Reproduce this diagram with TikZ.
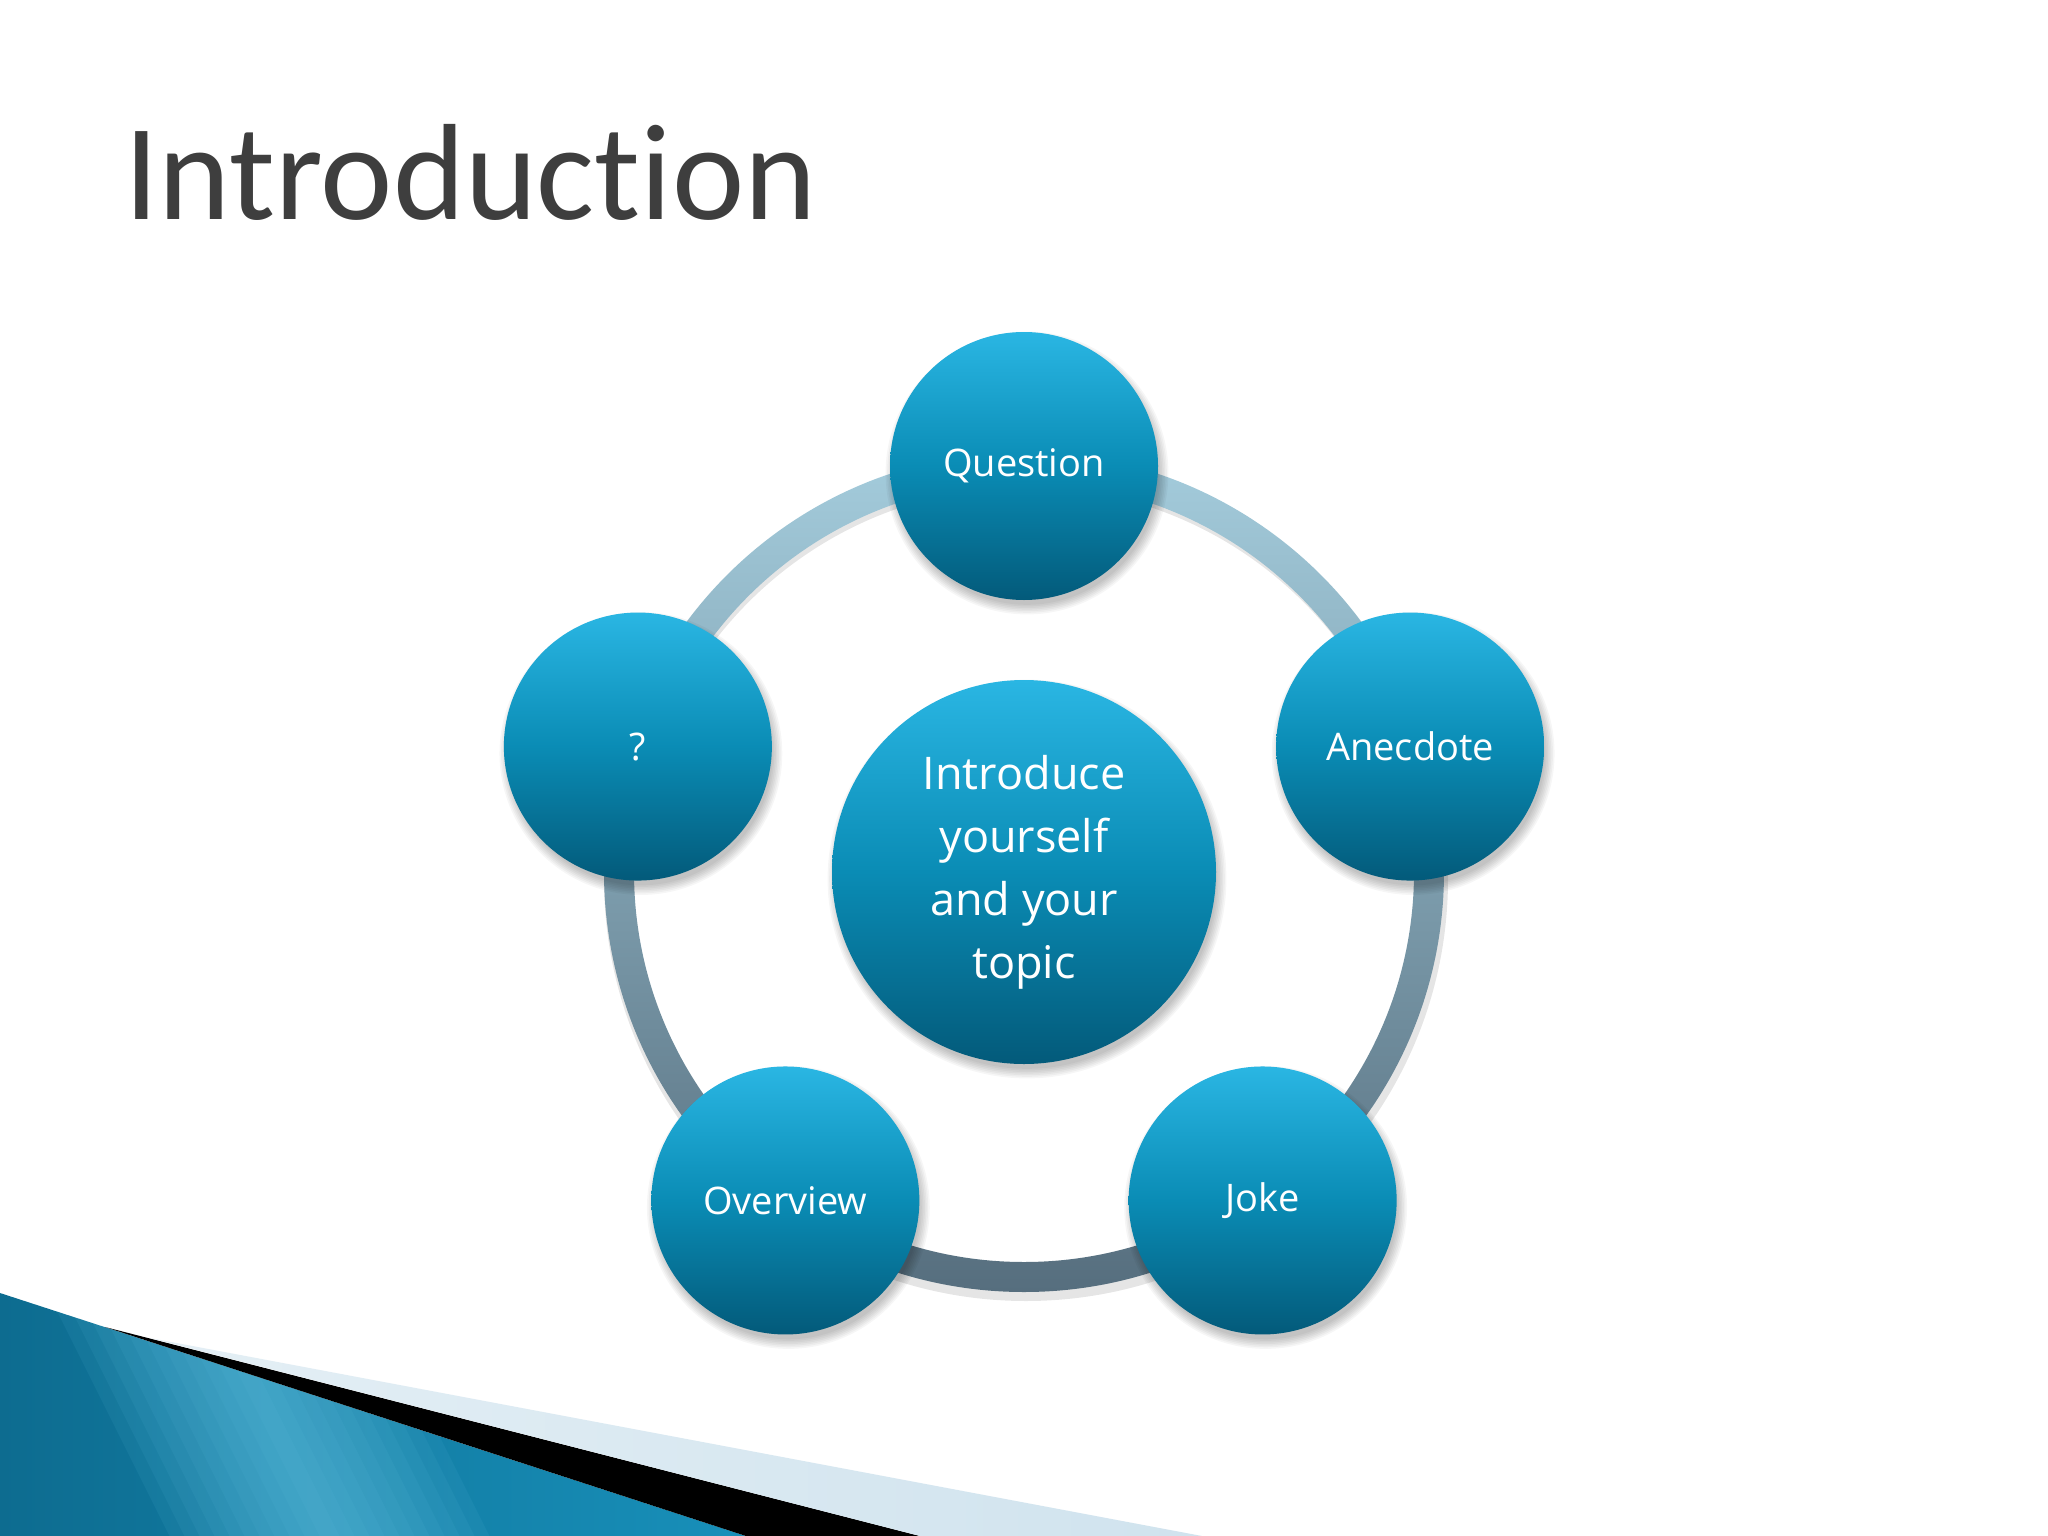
\documentclass[tikz,border=0pt]{standalone}
\usepackage{fontspec}
\setmainfont{Carlito}[Ligatures={NoCommon}]
\newfontfamily\labfont{Open Sans}
\usetikzlibrary{calc}
\definecolor{ctop}{HTML}{2AB6E3}
\definecolor{cmid}{HTML}{0A8CB5}
\definecolor{cbot}{HTML}{035A7A}
\definecolor{ringtop}{HTML}{A4CCDC}
\definecolor{ringbot}{HTML}{566E7E}
\definecolor{titlegray}{HTML}{3E3E3E}
\definecolor{blA}{HTML}{0D6C90}
\definecolor{blB}{HTML}{62C2E2}
\definecolor{blC}{HTML}{1890BA}
\definecolor{lightstripe}{HTML}{D0E3EE}
\definecolor{lightstripeL}{HTML}{E4EFF5}
\tikzset{
  bubble/.style={circle, inner sep=0pt, minimum size=268pt,
    top color=ctop, bottom color=cbot, middle color=cmid, draw=none,
    text=white, align=center, font=\labfont\fontsize{38}{46}\selectfont},
  bigbubble/.style={bubble, minimum size=384pt, font=\labfont\fontsize{45}{63}\selectfont},
  titletext/.style={anchor=base west, inner sep=0pt, font=\fontsize{137}{160}\selectfont}
}
\newcommand\fuzzyshadow[2]{%
  \foreach \k in {1,...,7}{%
    \fill[black, opacity=0.035] ($(#1)+(3,7)$) circle ({#2+9-1.6*\k});
  }%
}
\begin{document}
\begin{tikzpicture}[x=1pt,y=-1pt]
\useasboundingbox (0,0) rectangle (2048,1536);
\fill[white] (0,0) rectangle (2048,1536);

% title
\node[titletext, text=titlegray] (title) at (124,219) {Introduction};

% bottom-left swoosh
\begin{scope}
  \clip (0,1293) -- (746,1536) -- (0,1536) -- cycle;
  \shade[left color=blA, right color=blC] (0,1290) rectangle (750,1536);
  \foreach \w in {160,145,...,10}{
    \fill[blB, opacity=0.09] (158-\w,1193) -- (158+\w,1193) -- (423+\w,1723) -- (423-\w,1723) -- cycle;
  }
\end{scope}
\fill[black] (105,1327) -- (920,1536) -- (746,1536) -- cycle;
\shade[left color=lightstripeL, right color=lightstripe]
  (150,1338) -- (1202,1536) -- (920,1536) -- cycle;

% ring
\coordinate (c) at (1024,872);
\fill[black, opacity=0.10, even odd rule] ($(c)+(2,7)$) circle (422) ($(c)+(2,7)$) circle (392);
\shade[top color=ringtop, bottom color=ringbot, even odd rule]
  (c) circle (420) (c) circle (390);

% shadows
\foreach \a in {90,18,-54,-126,162}{
  \coordinate (s\a) at ($(c)+({406*cos(\a)},{-406*sin(\a)})$);
  \fuzzyshadow{s\a}{134}
}
\fuzzyshadow{c}{192}

% bubbles
\node[bubble] (q) at ($(c)+({406*cos(90)},{-406*sin(90)})$) {Question};
\node[bubble] (an) at ($(c)+({406*cos(18)},{-406*sin(18)})$) {Anecdote};
\node[bubble] (j) at ($(c)+({406*cos(-54)},{-406*sin(-54)})$) {Joke};
\node[bubble] (ov) at ($(c)+({406*cos(-126)},{-406*sin(-126)})$) {Overview};
\node[bubble] (qm) at ($(c)+({406*cos(162)},{-406*sin(162)})$) {?};
\node[bigbubble] (ctr) at (c) {Introduce\\yourself\\and your\\topic};
\end{tikzpicture}
\end{document}
